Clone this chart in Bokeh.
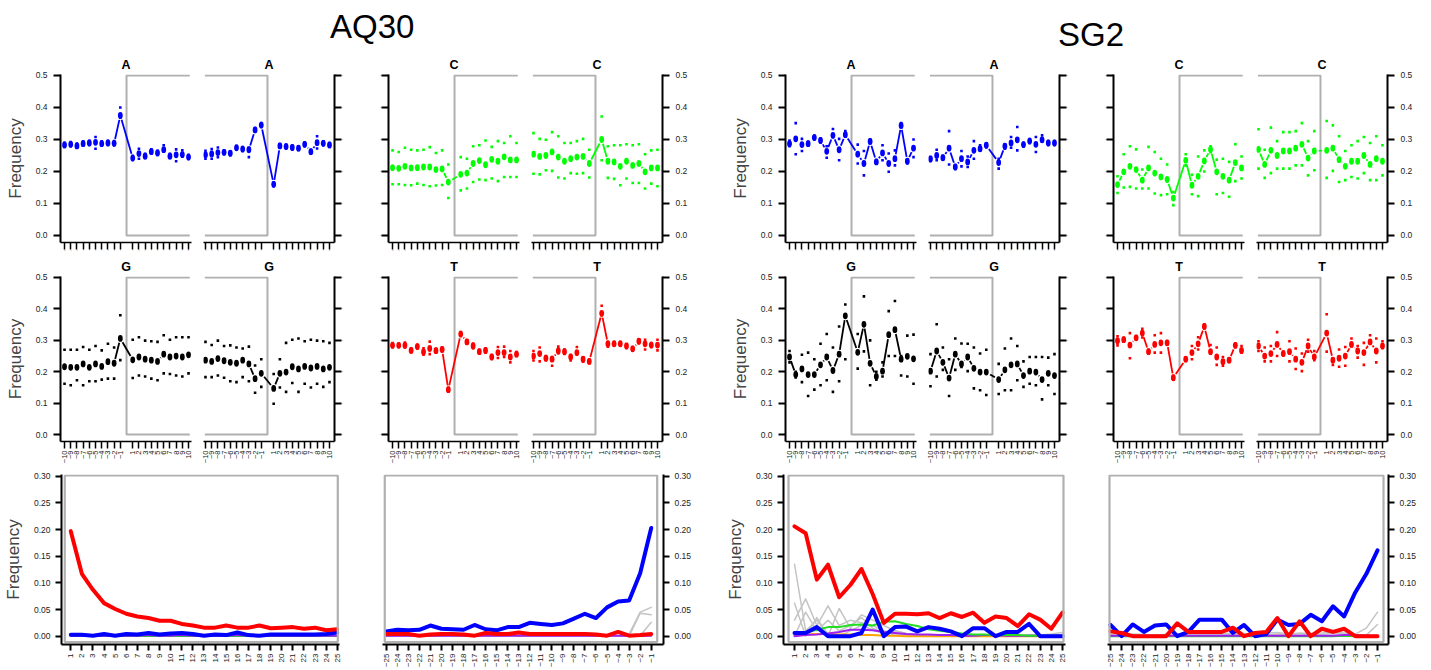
import math
from bokeh.plotting import figure
from bokeh.models import (ColumnDataSource, FixedTicker, NumeralTickFormatter,
                          BoxAnnotation, Div, LinearAxis, Range1d)
from bokeh.layouts import column, row
from bokeh.embed import file_html
from bokeh.resources import INLINE

FONT = "Liberation Sans"
BLUE = "#0000FF"
GREEN = "#00FF00"
RED = "#FF0000"
BLACK = "#000000"
GREY = "#B0B0B0"
LGREY = "#C4C4C4"
PURPLE = "#A020F0"
ORANGE = "#FFA500"
LIME = "#22DD22"

# ---------------- base composition data ----------------
POS = [-10, -9, -8, -7, -6, -5, -4, -3, -2, -1, 1, 2, 3, 4, 5, 6, 7, 8, 9, 10]
POS_EXTRA = [11]
Y_TICKS = [0.0, 0.1, 0.2, 0.3, 0.4, 0.5]

# AQ30
aq30_A5_mean = [0.283, 0.285, 0.280, 0.287, 0.289, 0.291, 0.287, 0.289, 0.288, 0.375,
                0.242, 0.256, 0.248, 0.262, 0.258, 0.268, 0.248, 0.252, 0.253, 0.245]
aq30_A5_up = [0.290, 0.292, 0.287, 0.294, 0.296, 0.308, 0.294, 0.296, 0.295, 0.400,
              0.249, 0.271, 0.255, 0.269, 0.265, 0.282, 0.255, 0.269, 0.266, 0.252, 0.266]
aq30_A5_lo = [0.277, 0.279, 0.274, 0.281, 0.283, 0.271, 0.281, 0.283, 0.282, 0.368,
              0.236, 0.240, 0.242, 0.256, 0.252, 0.262, 0.242, 0.232, 0.246, 0.239, 0.235]
aq30_A3_mean = [0.252, 0.255, 0.259, 0.260, 0.257, 0.274, 0.270, 0.268, 0.330, 0.345,
                0.160, 0.280, 0.278, 0.275, 0.273, 0.285, 0.262, 0.290, 0.288, 0.283]
aq30_A3_up = [0.265, 0.270, 0.275, 0.266, 0.263, 0.280, 0.276, 0.274, 0.336, 0.351,
              0.166, 0.286, 0.284, 0.281, 0.279, 0.291, 0.268, 0.310, 0.294, 0.289]
aq30_A3_lo = [0.240, 0.240, 0.245, 0.254, 0.251, 0.268, 0.264, 0.245, 0.324, 0.339,
              0.154, 0.274, 0.272, 0.269, 0.267, 0.279, 0.256, 0.272, 0.282, 0.277]

aq30_C5_mean = [0.212, 0.210, 0.216, 0.211, 0.212, 0.214, 0.214, 0.206, 0.208, 0.167,
                0.191, 0.195, 0.225, 0.234, 0.221, 0.238, 0.232, 0.246, 0.236, 0.236]
aq30_C5_up = [0.266, 0.261, 0.274, 0.268, 0.266, 0.268, 0.276, 0.258, 0.266, 0.222,
              0.245, 0.240, 0.279, 0.282, 0.297, 0.277, 0.295, 0.289, 0.310, 0.289, 0.313]
aq30_C5_lo = [0.160, 0.160, 0.158, 0.157, 0.162, 0.158, 0.154, 0.156, 0.158, 0.117,
              0.141, 0.147, 0.167, 0.175, 0.173, 0.178, 0.170, 0.183, 0.183, 0.183, 0.193]
aq30_C3_mean = [0.254, 0.247, 0.250, 0.261, 0.245, 0.232, 0.240, 0.245, 0.247, 0.225,
                0.300, 0.232, 0.230, 0.216, 0.232, 0.219, 0.225, 0.199, 0.211, 0.211]
aq30_C3_up = [0.320, 0.302, 0.299, 0.323, 0.310, 0.289, 0.289, 0.295, 0.302, 0.268,
              0.372, 0.279, 0.282, 0.282, 0.285, 0.282, 0.285, 0.254, 0.266, 0.268]
aq30_C3_lo = [0.193, 0.191, 0.204, 0.202, 0.181, 0.178, 0.195, 0.193, 0.195, 0.181,
              0.235, 0.180, 0.177, 0.157, 0.178, 0.164, 0.164, 0.147, 0.162, 0.154]

aq30_G5_mean = [0.216, 0.214, 0.214, 0.225, 0.214, 0.225, 0.217, 0.232, 0.227, 0.306,
                0.238, 0.247, 0.240, 0.237, 0.233, 0.256, 0.247, 0.250, 0.247, 0.254]
aq30_G5_up = [0.270, 0.270, 0.270, 0.279, 0.270, 0.282, 0.268, 0.289, 0.277, 0.380,
              0.302, 0.310, 0.299, 0.297, 0.295, 0.316, 0.302, 0.310, 0.310, 0.310, 0.302]
aq30_G5_lo = [0.162, 0.157, 0.173, 0.157, 0.170, 0.170, 0.175, 0.178, 0.178, 0.237,
              0.180, 0.188, 0.185, 0.178, 0.173, 0.195, 0.193, 0.188, 0.185, 0.195, 0.185]
aq30_G3_mean = [0.237, 0.233, 0.242, 0.235, 0.230, 0.227, 0.237, 0.225, 0.178, 0.195,
                0.147, 0.195, 0.199, 0.216, 0.209, 0.217, 0.212, 0.217, 0.209, 0.214]
aq30_G3_up = [0.295, 0.285, 0.299, 0.282, 0.284, 0.277, 0.274, 0.280, 0.220, 0.240,
              0.193, 0.240, 0.292, 0.302, 0.306, 0.297, 0.302, 0.299, 0.297, 0.292]
aq30_G3_lo = [0.183, 0.183, 0.188, 0.181, 0.170, 0.167, 0.183, 0.170, 0.133, 0.152,
              0.098, 0.150, 0.136, 0.164, 0.136, 0.162, 0.150, 0.162, 0.152, 0.167]

aq30_T5_mean = [0.284, 0.284, 0.284, 0.268, 0.280, 0.263, 0.274, 0.267, 0.271, 0.143,
                0.320, 0.295, 0.282, 0.264, 0.268, 0.247, 0.261, 0.261, 0.247, 0.256]
aq30_T5_up = [0.291, 0.289, 0.293, 0.274, 0.286, 0.275, 0.296, 0.273, 0.277, 0.149,
              0.326, 0.301, 0.290, 0.270, 0.275, 0.253, 0.279, 0.280, 0.266, 0.263, 0.266]
aq30_T5_lo = [0.278, 0.279, 0.277, 0.262, 0.274, 0.254, 0.256, 0.261, 0.265, 0.137,
              0.314, 0.289, 0.275, 0.258, 0.261, 0.241, 0.244, 0.247, 0.230, 0.250, 0.230]
aq30_T3_mean = [0.250, 0.258, 0.243, 0.240, 0.266, 0.264, 0.247, 0.261, 0.240, 0.233,
                0.386, 0.289, 0.289, 0.289, 0.282, 0.273, 0.297, 0.289, 0.285, 0.285]
aq30_T3_up = [0.266, 0.277, 0.250, 0.247, 0.280, 0.271, 0.253, 0.279, 0.246, 0.239,
              0.410, 0.295, 0.295, 0.295, 0.288, 0.279, 0.303, 0.302, 0.291, 0.302]
aq30_T3_lo = [0.236, 0.233, 0.237, 0.219, 0.259, 0.257, 0.236, 0.254, 0.232, 0.227,
              0.380, 0.280, 0.283, 0.283, 0.276, 0.267, 0.291, 0.271, 0.279, 0.268]

# SG2
sg2_A5_mean = [0.287, 0.302, 0.284, 0.287, 0.306, 0.297, 0.263, 0.313, 0.268, 0.315,
               0.254, 0.225, 0.294, 0.230, 0.258, 0.225, 0.240, 0.344, 0.232, 0.273]
sg2_A5_up = [0.297, 0.351, 0.302, 0.293, 0.312, 0.303, 0.279, 0.333, 0.302, 0.326,
             0.284, 0.264, 0.300, 0.236, 0.282, 0.256, 0.266, 0.351, 0.238, 0.300, 0.285]
sg2_A5_lo = [0.279, 0.254, 0.264, 0.281, 0.300, 0.291, 0.243, 0.307, 0.235, 0.309,
             0.225, 0.188, 0.288, 0.224, 0.235, 0.199, 0.219, 0.338, 0.226, 0.245, 0.242]
sg2_A3_mean = [0.239, 0.250, 0.243, 0.273, 0.214, 0.240, 0.230, 0.266, 0.271, 0.282,
               0.228, 0.279, 0.289, 0.299, 0.284, 0.295, 0.285, 0.299, 0.289, 0.289]
sg2_A3_up = [0.245, 0.268, 0.249, 0.326, 0.220, 0.264, 0.247, 0.295, 0.282, 0.288,
             0.240, 0.285, 0.308, 0.339, 0.290, 0.301, 0.308, 0.313, 0.295, 0.295]
sg2_A3_lo = [0.233, 0.235, 0.237, 0.222, 0.208, 0.216, 0.214, 0.240, 0.265, 0.276,
             0.209, 0.271, 0.274, 0.266, 0.278, 0.289, 0.261, 0.293, 0.283, 0.283]

sg2_C5_mean = [0.159, 0.199, 0.216, 0.206, 0.173, 0.211, 0.195, 0.183, 0.175, 0.117,
               0.235, 0.157, 0.185, 0.233, 0.269, 0.199, 0.185, 0.173, 0.228, 0.211]
sg2_C5_up = [0.185, 0.254, 0.279, 0.269, 0.206, 0.277, 0.261, 0.240, 0.222, 0.136,
             0.254, 0.190, 0.247, 0.266, 0.279, 0.237, 0.240, 0.230, 0.285, 0.247, 0.280]
sg2_C5_lo = [0.133, 0.150, 0.152, 0.147, 0.147, 0.147, 0.131, 0.126, 0.129, 0.095,
             0.219, 0.129, 0.123, 0.200, 0.260, 0.129, 0.133, 0.121, 0.170, 0.178, 0.152]
sg2_C3_mean = [0.269, 0.222, 0.266, 0.250, 0.264, 0.264, 0.273, 0.285, 0.242, 0.264,
               0.266, 0.273, 0.237, 0.216, 0.232, 0.232, 0.250, 0.222, 0.240, 0.232]
sg2_C3_up = [0.332, 0.268, 0.337, 0.295, 0.323, 0.323, 0.326, 0.351, 0.295, 0.326,
             0.358, 0.344, 0.310, 0.264, 0.282, 0.295, 0.308, 0.289, 0.310, 0.282]
sg2_C3_lo = [0.209, 0.180, 0.195, 0.209, 0.209, 0.209, 0.219, 0.219, 0.188, 0.204,
             0.180, 0.202, 0.167, 0.173, 0.183, 0.178, 0.195, 0.173, 0.173, 0.188]

sg2_G5_mean = [0.247, 0.191, 0.209, 0.191, 0.191, 0.222, 0.247, 0.204, 0.256, 0.378,
               0.262, 0.351, 0.227, 0.185, 0.202, 0.318, 0.334, 0.240, 0.249, 0.241]
sg2_G5_up = [0.266, 0.200, 0.254, 0.261, 0.240, 0.289, 0.320, 0.277, 0.344, 0.414,
             0.320, 0.440, 0.300, 0.200, 0.230, 0.393, 0.425, 0.250, 0.315, 0.318, 0.318]
sg2_G5_lo = [0.230, 0.182, 0.167, 0.123, 0.143, 0.157, 0.173, 0.136, 0.170, 0.240,
             0.210, 0.265, 0.157, 0.175, 0.185, 0.250, 0.250, 0.188, 0.185, 0.162, 0.125]
sg2_G3_mean = [0.202, 0.266, 0.230, 0.180, 0.256, 0.225, 0.247, 0.211, 0.199, 0.199,
               0.175, 0.206, 0.222, 0.225, 0.188, 0.202, 0.199, 0.175, 0.195, 0.188]
sg2_G3_up = [0.256, 0.351, 0.277, 0.240, 0.306, 0.290, 0.289, 0.277, 0.258, 0.270,
             0.225, 0.274, 0.306, 0.282, 0.233, 0.247, 0.247, 0.247, 0.245, 0.256]
sg2_G3_lo = [0.154, 0.185, 0.206, 0.123, 0.206, 0.215, 0.202, 0.147, 0.141, 0.126,
             0.129, 0.141, 0.141, 0.173, 0.152, 0.162, 0.157, 0.112, 0.157, 0.129]

sg2_T5_mean = [0.299, 0.302, 0.285, 0.308, 0.323, 0.264, 0.287, 0.292, 0.292, 0.181,
               0.240, 0.261, 0.289, 0.344, 0.264, 0.247, 0.232, 0.237, 0.284, 0.268]
sg2_T5_up = [0.313, 0.308, 0.323, 0.314, 0.337, 0.270, 0.316, 0.323, 0.298, 0.187,
             0.246, 0.282, 0.310, 0.351, 0.285, 0.277, 0.247, 0.243, 0.290, 0.282, 0.308]
sg2_T5_lo = [0.284, 0.296, 0.243, 0.302, 0.309, 0.258, 0.261, 0.261, 0.286, 0.175,
             0.234, 0.240, 0.271, 0.338, 0.258, 0.222, 0.219, 0.231, 0.278, 0.261, 0.282]
sg2_T3_mean = [0.282, 0.250, 0.258, 0.287, 0.258, 0.264, 0.240, 0.230, 0.282, 0.247,
               0.323, 0.237, 0.243, 0.250, 0.287, 0.266, 0.261, 0.295, 0.266, 0.282]
sg2_T3_up = [0.297, 0.277, 0.282, 0.326, 0.264, 0.297, 0.274, 0.258, 0.302, 0.266,
             0.383, 0.243, 0.271, 0.279, 0.306, 0.282, 0.292, 0.316, 0.306, 0.297]
sg2_T3_lo = [0.266, 0.233, 0.233, 0.250, 0.252, 0.233, 0.209, 0.202, 0.264, 0.237,
             0.264, 0.222, 0.216, 0.219, 0.281, 0.245, 0.222, 0.289, 0.230, 0.276]

# ---------------- misincorporation data ----------------
POS5 = list(range(1, 26))
POS3 = list(range(-25, 0))
M_TICKS = [0.0, 0.05, 0.10, 0.15, 0.20, 0.25, 0.30]

aq30_5p_CT = [0.197, 0.117, 0.087, 0.062, 0.051, 0.042, 0.037, 0.034, 0.029, 0.029, 0.023, 0.020, 0.016,
              0.016, 0.020, 0.016, 0.016, 0.020, 0.015, 0.016, 0.017, 0.014, 0.016, 0.011, 0.013]
aq30_5p_GA = [0.0025, 0.0025, 0.001, 0.004, 0.001, 0.004, 0.003, 0.006, 0.003, 0.005, 0.006, 0.004, 0.001,
              0.003, 0.002, 0.007, 0.002, 0.001, 0.003, 0.003, 0.003, 0.003, 0.003, 0.004, 0.007]
aq30_5p_del = [0.001, 0.001, 0.001, 0.001, 0.001, 0.001, 0.001, 0.002, 0.001, 0.001, 0.002, 0.001, 0.001,
               0.001, 0.001, 0.002, 0.001, 0.001, 0.001, 0.001, 0.001, 0.001, 0.001, 0.001, 0.001]
aq30_5p_ins = [0.0005, 0.0005, 0.0005, 0.0005, 0.0005, 0.0005, 0.0005, 0.0005, 0.0005, 0.0005, 0.0005, 0.0005, 0.0005,
               0.0005, 0.0005, 0.0005, 0.0005, 0.0005, 0.0005, 0.0005, 0.0005, 0.0005, 0.0005, 0.0005, 0.0005]

aq30_3p_GA = [0.009, 0.012, 0.011, 0.012, 0.020, 0.014, 0.013, 0.012, 0.021, 0.013, 0.011, 0.017, 0.017,
              0.025, 0.023, 0.021, 0.024, 0.033, 0.042, 0.034, 0.054, 0.065, 0.067, 0.118, 0.203]
aq30_3p_CT = [0.004, 0.004, 0.004, 0.001, 0.003, 0.004, 0.004, 0.003, 0.001, 0.006, 0.004, 0.004, 0.007,
              0.004, 0.004, 0.004, 0.004, 0.004, 0.004, 0.003, 0.001, 0.008, 0.001, 0.002, 0.004]
aq30_3p_oth1 = [0.0, 0.0, 0.0, 0.0, 0.0, 0.0, 0.0, 0.0, 0.0, 0.0, 0.0, 0.0, 0.0,
                0.0, 0.0, 0.0, 0.0, 0.0, 0.0, 0.0, 0.0, 0.0, 0.004, 0.045, 0.054]
aq30_3p_oth2 = [0.0, 0.0, 0.0, 0.0, 0.0, 0.0, 0.0, 0.0, 0.0, 0.0, 0.0, 0.0, 0.0,
                0.0, 0.0, 0.0, 0.0, 0.0, 0.0, 0.0, 0.0, 0.0, 0.0, 0.043, 0.040]
aq30_3p_oth3 = [0.0, 0.0, 0.0, 0.0, 0.0, 0.0, 0.0, 0.0, 0.0, 0.0, 0.0, 0.0, 0.0,
                0.0, 0.0, 0.0, 0.0, 0.0, 0.0, 0.0, 0.0, 0.0, 0.0, 0.001, 0.026]
aq30_3p_del = [0.001, 0.001, 0.001, 0.001, 0.001, 0.001, 0.001, 0.001, 0.001, 0.001, 0.001, 0.001, 0.001,
               0.001, 0.001, 0.001, 0.001, 0.001, 0.001, 0.001, 0.001, 0.001, 0.001, 0.001, 0.001]

sg2_5p_CT = [0.206, 0.193, 0.106, 0.134, 0.073, 0.096, 0.126, 0.079, 0.025, 0.042, 0.042, 0.041, 0.043,
             0.034, 0.043, 0.036, 0.044, 0.025, 0.037, 0.034, 0.019, 0.041, 0.031, 0.014, 0.044]
sg2_5p_GA = [0.006, 0.006, 0.017, 0.0, 0.0, 0.0, 0.006, 0.050, 0.0, 0.017, 0.018, 0.009, 0.017,
             0.014, 0.009, 0.0, 0.015, 0.015, 0.0, 0.008, 0.008, 0.023, 0.0, 0.0, 0.0]
sg2_5p_ins = [0.005, 0.007, 0.012, 0.017, 0.017, 0.021, 0.022, 0.020, 0.027, 0.028, 0.023, 0.019, 0.013,
              0.010, 0.008, 0.005, 0.003, 0.003, 0.002, 0.002, 0.002, 0.001, 0.001, 0.001, 0.001]
sg2_5p_del = [0.0, 0.002, 0.003, 0.005, 0.008, 0.012, 0.012, 0.011, 0.008, 0.006, 0.004, 0.003, 0.003,
              0.002, 0.002, 0.001, 0.001, 0.002, 0.002, 0.001, 0.001, 0.001, 0.001, 0.001, 0.001]
sg2_5p_clip = [0.002, 0.003, 0.004, 0.004, 0.003, 0.003, 0.002, 0.002, 0.001, 0.001, 0.0, 0.0, 0.0,
               0.0, 0.0, 0.0, 0.0, 0.0, 0.0, 0.0, 0.0, 0.0, 0.0, 0.0, 0.0]
sg2_5p_oth1 = [0.135, 0.010, 0.030, 0.005, 0.0, 0.010, 0.020, 0.012, 0.005, 0.010, 0.005, 0.003, 0.002,
               0.002, 0.001, 0.001, 0.001, 0.0, 0.0, 0.0, 0.0, 0.0, 0.0, 0.0, 0.003]
sg2_5p_oth2 = [0.062, 0.0, 0.035, 0.0, 0.052, 0.015, 0.040, 0.030, 0.020, 0.010, 0.005, 0.003, 0.002,
               0.001, 0.001, 0.001, 0.0, 0.0, 0.0, 0.0, 0.0, 0.0, 0.0, 0.0, 0.0]
sg2_5p_oth3 = [0.030, 0.070, 0.020, 0.057, 0.020, 0.030, 0.025, 0.020, 0.010, 0.005, 0.003, 0.002, 0.001,
               0.001, 0.0, 0.0, 0.0, 0.0, 0.0, 0.0, 0.0, 0.003, 0.002, 0.004, 0.007]
sg2_5p_oth4 = [0.0, 0.045, 0.010, 0.030, 0.010, 0.020, 0.035, 0.015, 0.008, 0.002, 0.001, 0.001, 0.0,
               0.0, 0.0, 0.0, 0.0, 0.0, 0.0, 0.0, 0.0, 0.0, 0.0, 0.0, 0.0]

sg2_3p_GA = [0.021, 0.0, 0.022, 0.008, 0.020, 0.022, 0.0, 0.008, 0.031, 0.031, 0.031, 0.006, 0.021,
             0.0, 0.004, 0.031, 0.021, 0.023, 0.040, 0.028, 0.056, 0.037, 0.082, 0.117, 0.161]
sg2_3p_CT = [0.009, 0.006, 0.0, 0.0, 0.0, 0.0, 0.024, 0.008, 0.008, 0.008, 0.008, 0.016, 0.0,
             0.006, 0.008, 0.034, 0.0, 0.028, 0.0, 0.014, 0.008, 0.014, 0.0, 0.0, 0.0]
sg2_3p_del = [0.001, 0.001, 0.001, 0.001, 0.001, 0.001, 0.001, 0.001, 0.001, 0.001, 0.001, 0.001, 0.001,
              0.001, 0.001, 0.001, 0.001, 0.001, 0.001, 0.001, 0.001, 0.002, 0.002, 0.001, 0.001]
sg2_3p_ins = [0.0, 0.0, 0.0, 0.0, 0.0, 0.0, 0.0, 0.0, 0.0, 0.0, 0.0, 0.0, 0.0,
              0.0, 0.0, 0.0, 0.0, 0.0, 0.0, 0.0, 0.0, 0.001, 0.0, 0.0, 0.0]
sg2_3p_oth1 = [0.003, 0.002, 0.004, 0.003, 0.002, 0.003, 0.004, 0.003, 0.004, 0.005, 0.004, 0.006, 0.005,
               0.004, 0.006, 0.007, 0.004, 0.006, 0.005, 0.006, 0.008, 0.006, 0.004, 0.015, 0.045]
sg2_3p_oth2 = [0.0, 0.001, 0.0, 0.002, 0.001, 0.003, 0.002, 0.001, 0.002, 0.003, 0.002, 0.003, 0.002,
               0.003, 0.002, 0.004, 0.003, 0.002, 0.004, 0.003, 0.005, 0.004, 0.002, 0.002, 0.022]

# ---------------- helpers ----------------

def style_common(ax, lab_size, show_labels, tick_w=2, line_w=2, tick_out=7):
    ax.axis_line_color = "black"
    ax.axis_line_width = line_w
    ax.major_tick_line_color = "black"
    ax.major_tick_line_width = tick_w
    ax.major_tick_out = tick_out
    ax.major_tick_in = 0
    ax.minor_tick_line_color = None
    ax.major_label_text_font = FONT
    ax.major_label_text_color = "#222222"
    if show_labels:
        ax.major_label_text_font_size = lab_size
    else:
        ax.major_label_text_font_size = "1px"
        ax.major_label_standoff = 0


def gap_segments(xs, ys, sx, sy, gap=4.5):
    x0, y0, x1, y1 = [], [], [], []
    for i in range(len(xs) - 1):
        xa, ya, xb, yb = xs[i], ys[i], xs[i + 1], ys[i + 1]
        dxp = (xb - xa) * sx
        dyp = (yb - ya) * sy
        L = math.hypot(dxp, dyp)
        if L <= 2 * gap:
            continue
        f = gap / L
        x0.append(xa + (xb - xa) * f)
        y0.append(ya + (yb - ya) * f)
        x1.append(xb - (xb - xa) * f)
        y1.append(yb - (yb - ya) * f)
    return dict(x0=x0, y0=y0, x1=x1, y1=y1)


CW, CH = 131, 168
CY = (-0.0219, 0.5031)


def comp_fig(mean, up, lo, color, end, letter, bl, br, bt, bb, show_y, ylabel, show_x):
    if end == 5:
        xr = (-10.65, 10.48)
    else:
        xr = (-10.32, 10.81)
    p = figure(width=bl + CW + br, height=bt + CH + bb, title=letter,
               x_range=Range1d(*xr), y_range=Range1d(*CY),
               x_axis_type=None, y_axis_type=None, toolbar_location=None,
               output_backend="svg", min_border_left=bl, min_border_right=br,
               min_border_top=bt, min_border_bottom=bb, outline_line_color=None)
    p.title.align = "center"
    p.title.offset = 0 if end == 5 else -3
    p.title.text_font = FONT
    p.title.text_font_style = "bold"
    p.title.text_font_size = "12.5px"
    p.title.text_color = "black"
    p.title.standoff = 6

    # grey read box
    if end == 5:
        edge = POS[-1] + 0.2
    else:
        edge = POS[0] - 0.1
    p.line([edge, 0, 0, edge], [0.5, 0.5, 0, 0], line_color=GREY, line_width=2)

    sx = CW / (xr[1] - xr[0])
    sy = CH / (CY[1] - CY[0])
    segs = gap_segments(POS, mean, sx, sy)
    p.segment("x0", "y0", "x1", "y1", source=ColumnDataSource(segs), line_color=color, line_width=1.8)

    spread_x = POS + (POS_EXTRA if end == 5 else [])
    p.scatter(spread_x, up, marker="square", size=2.6, fill_color=color, line_color=None)
    p.scatter(spread_x, lo, marker="square", size=2.6, fill_color=color, line_color=None)
    p.ellipse(POS, mean, width=4.8, height=6.8, width_units="screen", height_units="screen",
              fill_color=color, line_color=None)

    yax = LinearAxis(ticker=FixedTicker(ticks=Y_TICKS), formatter=NumeralTickFormatter(format="0.0"))
    style_common(yax, "8.5px", show_y)
    if show_y:
        yax.major_label_standoff = 6
    if ylabel:
        yax.axis_label = "Frequency"
        yax.axis_label_text_font = FONT
        yax.axis_label_text_font_style = "normal"
        yax.axis_label_text_font_size = "17px"
        yax.axis_label_standoff = 8
    p.add_layout(yax, "left" if end == 5 else "right")

    xax = LinearAxis(ticker=FixedTicker(ticks=POS))
    style_common(xax, "7.5px", show_x, tick_w=1.5, line_w=1.5, tick_out=7)
    if show_x:
        xax.major_label_orientation = math.pi / 2
        xax.major_label_standoff = 2
    p.add_layout(xax, "below")
    return p


MY = (-0.0156, 0.3032)
MH = 170


def mis_fig(pos, series, side, xr, box, bl, frame_w, br, ylabel):
    p = figure(width=bl + frame_w + br, height=8 + MH + 26, title=None,
               x_range=Range1d(*xr), y_range=Range1d(*MY),
               x_axis_type=None, y_axis_type=None, toolbar_location=None,
               output_backend="svg", min_border_left=bl, min_border_right=br,
               min_border_top=8, min_border_bottom=26, outline_line_color=None)
    for vals, col, lw in series:
        p.line(pos, vals, line_color=col, line_width=lw, line_join="round", line_cap="round")
    p.add_layout(BoxAnnotation(left=box[0], right=box[1], bottom=-0.0109, top=0.3013,
                               fill_alpha=0, fill_color=None, line_color=GREY,
                               line_alpha=1.0, line_width=2.2))
    yax = LinearAxis(ticker=FixedTicker(ticks=M_TICKS), formatter=NumeralTickFormatter(format="0.00"))
    style_common(yax, "8.5px", True, tick_out=6)
    yax.major_label_standoff = 5
    if ylabel:
        yax.axis_label = "Frequency"
        yax.axis_label_text_font = FONT
        yax.axis_label_text_font_style = "normal"
        yax.axis_label_text_font_size = "17px"
        yax.axis_label_standoff = 8
    p.add_layout(yax, side)
    xax = LinearAxis(ticker=FixedTicker(ticks=pos))
    style_common(xax, "8px", True, tick_w=2, line_w=2, tick_out=6)
    xax.major_label_orientation = math.pi / 2
    xax.major_label_standoff = 3
    p.add_layout(xax, "below")
    return p


# ---------------- assemble ----------------
# column layouts: (bl5, br5, bl3, br3, labels_on_5p_axis, labels_on_3p_axis, ylabel)
COLS = [(60, 6, 6, 27, True, False, True),
        (27, 6, 6, 45, False, True, False),
        (78, 6, 6, 27, True, False, True),
        (27, 6, 6, 44, False, True, False)]

ROW1 = [("A", BLUE, aq30_A5_mean, aq30_A5_up, aq30_A5_lo, aq30_A3_mean, aq30_A3_up, aq30_A3_lo),
        ("C", GREEN, aq30_C5_mean, aq30_C5_up, aq30_C5_lo, aq30_C3_mean, aq30_C3_up, aq30_C3_lo),
        ("A", BLUE, sg2_A5_mean, sg2_A5_up, sg2_A5_lo, sg2_A3_mean, sg2_A3_up, sg2_A3_lo),
        ("C", GREEN, sg2_C5_mean, sg2_C5_up, sg2_C5_lo, sg2_C3_mean, sg2_C3_up, sg2_C3_lo)]
ROW2 = [("G", BLACK, aq30_G5_mean, aq30_G5_up, aq30_G5_lo, aq30_G3_mean, aq30_G3_up, aq30_G3_lo),
        ("T", RED, aq30_T5_mean, aq30_T5_up, aq30_T5_lo, aq30_T3_mean, aq30_T3_up, aq30_T3_lo),
        ("G", BLACK, sg2_G5_mean, sg2_G5_up, sg2_G5_lo, sg2_G3_mean, sg2_G3_up, sg2_G3_lo),
        ("T", RED, sg2_T5_mean, sg2_T5_up, sg2_T5_lo, sg2_T3_mean, sg2_T3_up, sg2_T3_lo)]


def build_row(specs, bt, bb, show_x):
    figs = []
    for (letter, color, m5, u5, l5, m3, u3, l3), (bl5, br5, bl3, br3, lab5, lab3, ylab) in zip(specs, COLS):
        figs.append(comp_fig(m5, u5, l5, color, 5, letter, bl5, br5, bt, bb, lab5, ylab, show_x))
        figs.append(comp_fig(m3, u3, l3, color, 3, letter, bl3, br3, bt, bb, lab3, False, show_x))
    return row(*figs)


row1 = build_row(ROW1, 22, 12, False)
row2 = build_row(ROW2, 20, 24, True)

m1 = mis_fig(POS5, [(aq30_5p_ins, LIME, 2), (aq30_5p_del, PURPLE, 2),
                    (aq30_5p_GA, BLUE, 4), (aq30_5p_CT, RED, 4)],
             "left", (0.165, 25.205), (0.46, 25.05), 60, 279, 20, True)
m2 = mis_fig(POS3, [(aq30_3p_oth3, LGREY, 1.5), (aq30_3p_oth2, LGREY, 1.5), (aq30_3p_oth1, LGREY, 1.5),
                    (aq30_3p_del, PURPLE, 2), (aq30_3p_GA, BLUE, 4), (aq30_3p_CT, RED, 4)],
             "right", (-25.335, 0.113), (-25.13, -0.457), 23, 281, 45, False)
m3 = mis_fig(POS5, [(sg2_5p_oth1, LGREY, 1.5), (sg2_5p_oth2, LGREY, 1.5), (sg2_5p_oth3, LGREY, 1.5),
                    (sg2_5p_oth4, LGREY, 1.5), (sg2_5p_clip, ORANGE, 2), (sg2_5p_del, PURPLE, 2),
                    (sg2_5p_ins, LIME, 2), (sg2_5p_CT, RED, 4), (sg2_5p_GA, BLUE, 4)],
             "left", (0.015, 25.27), (0.463, 25.09), 75, 282, 21, True)
m4 = mis_fig(POS3, [(sg2_3p_oth2, LGREY, 1.5), (sg2_3p_oth1, LGREY, 1.5), (sg2_3p_ins, LIME, 2),
                    (sg2_3p_del, PURPLE, 2), (sg2_3p_GA, BLUE, 4), (sg2_3p_CT, RED, 4)],
             "right", (-25.27, -0.011), (-25.09, -0.46), 21, 281, 43, False)
row3 = row(m1, m2, m3, m4)

t1 = Div(text='<span style="position:relative; left:330px; top:3px; font-size:33px; '
              'font-family:\'Liberation Sans\', Arial, sans-serif; color:#000;">AQ30</span>',
         width=720, height=52, margin=(0, 0, 0, 0))
t2 = Div(text='<span style="position:relative; left:338px; top:11px; font-size:33px; '
              'font-family:\'Liberation Sans\', Arial, sans-serif; color:#000;">SG2</span>',
         width=711, height=52, margin=(0, 0, 0, 0))
header = row(t1, t2)

layout = column(header, row1, row2, row3)

with open("out.html", "w") as f:
    f.write(file_html(layout, INLINE, title="mapDamage"))
